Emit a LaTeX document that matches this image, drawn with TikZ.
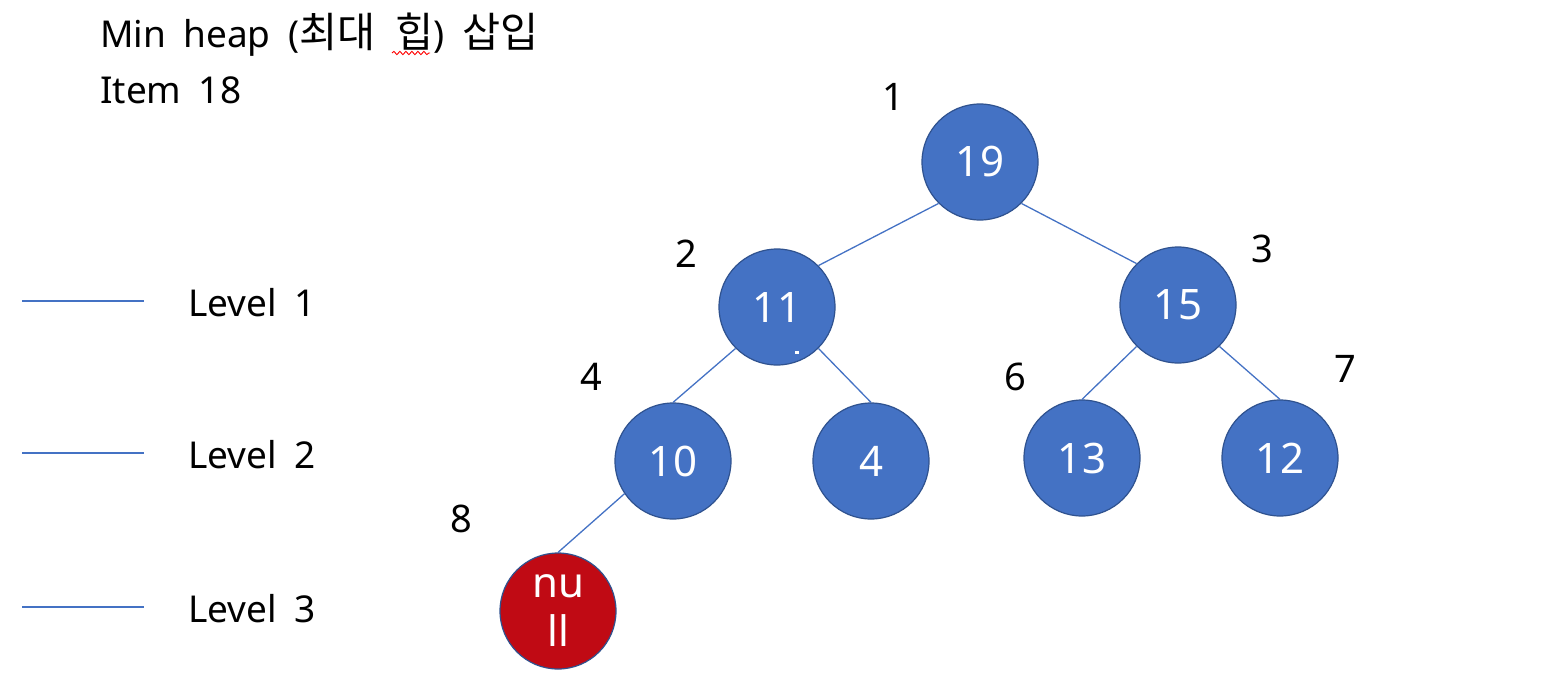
\documentclass[tikz,border=0pt]{standalone}
\usepackage{fontspec}
\setmainfont{Noto Sans}[WordSpace=1.8]
\newfontfamily\kr{Noto Sans CJK KR}[Scale=1.12,WordSpace=2.2]
\usetikzlibrary{decorations.pathmorphing}
\definecolor{nodeblue}{HTML}{4472C4}
\definecolor{nodeborder}{HTML}{2F528F}
\definecolor{nullred}{HTML}{C00A14}
\definecolor{edgeblue}{HTML}{4472C4}
\begin{document}
\begin{tikzpicture}[x=1pt,y=-1pt,
  hnode/.style={circle, draw=nodeborder, line width=1.2pt, fill=nodeblue, minimum size=116pt, inner sep=0pt, text=white, font=\fontsize{42}{46}\selectfont},
  nullnode/.style={hnode, fill=nullred, align=center},
  edge/.style={draw=edgeblue, line width=1.3pt},
  idx/.style={font=\fontsize{38}{42}\selectfont, text=black},
  lvl/.style={font=\fontsize{37}{40}\selectfont, anchor=base west, inner sep=0pt},
  title/.style={font=\fontsize{37}{40}\selectfont, anchor=base west, inner sep=0pt}]
\useasboundingbox (0,0) rectangle (1554,686);
% title
\node[title] (t1) at (100,47) {Min heap ({\kr 최대 힙}) {\kr 삽입}};
\node[title] (t2) at (100,103) {Item 18};
\draw[red, line width=0.9pt, decorate, decoration={snake, amplitude=1.6pt, segment length=6pt}] (392,53) -- (430,53);
% legend
\coordinate (l1a) at (22,301); \coordinate (l1b) at (144,301);
\coordinate (l2a) at (22,453); \coordinate (l2b) at (144,453);
\coordinate (l3a) at (22,607); \coordinate (l3b) at (144,607);
\draw[edge] (l1a) -- (l1b);
\draw[edge] (l2a) -- (l2b);
\draw[edge] (l3a) -- (l3b);
\node[lvl] (lv1) at (188,316) {Level 1};
\node[lvl] (lv2) at (188,468) {Level 2};
\node[lvl] (lv3) at (188,622) {Level 3};
% nodes
\node[hnode] (n19) at (980,162) {19};
\node[hnode] (n11) at (777,307) {11};
\node[hnode] (n15) at (1178,305) {15};
\node[hnode] (n10) at (673,461) {10};
\node[hnode] (n4) at (871,461) {4};
\node[hnode] (n13) at (1082,458) {13};
\node[hnode] (n12) at (1280,458) {12};
\node[nullnode] (nnull) at (558,611) {nu\\[3pt]ll};
% edges
\draw[edge] (n19.225) -- (n11.45);
\draw[edge] (n19.315) -- (n15.135);
\draw[edge] (n11.225) -- (n10.90);
\draw[edge] (n11.315) -- (n4.90);
\draw[edge] (n15.225) -- (n13.90);
\draw[edge] (n15.315) -- (n12.90);
\draw[edge] (n10.214) -- (nnull.90);
\fill[white] (795,351) rectangle (799,354);
% indices
\node[idx] (i1) at (893,97) {1};
\node[idx] (i2) at (686,254) {2};
\node[idx] (i3) at (1262,249) {3};
\node[idx] (i4) at (591,377) {4};
\node[idx] (i6) at (1015,377) {6};
\node[idx] (i7) at (1345,369) {7};
\node[idx] (i8) at (461,519) {8};
\end{tikzpicture}
\end{document}
